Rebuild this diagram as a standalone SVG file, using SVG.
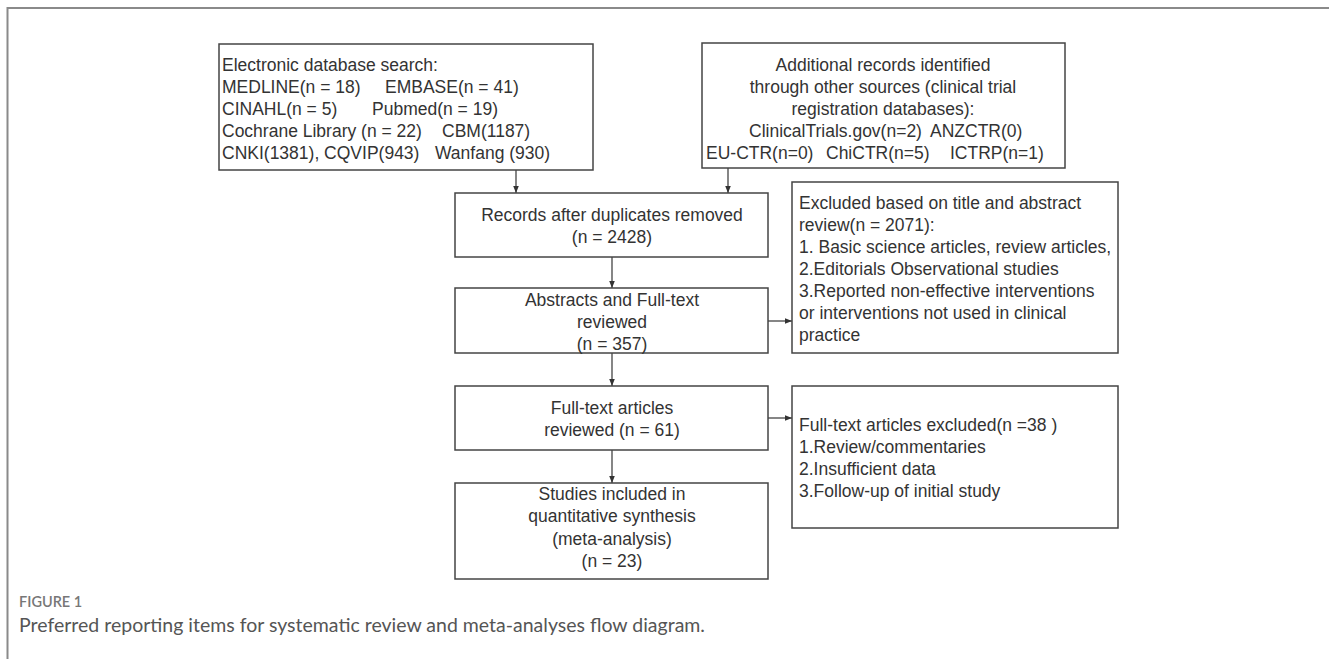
<svg xmlns="http://www.w3.org/2000/svg" width="1329" height="659" viewBox="0 0 1329 659">
<style>
.box{fill:#fff;stroke:#444;stroke-width:1.5}
.t{font-family:"Liberation Sans",Arial,sans-serif;font-size:17.5px;fill:#333}
.c{text-anchor:middle}
.ln{stroke:#444;stroke-width:1.3;fill:none}
.frame{stroke:#8a8a8a;stroke-width:2;fill:none}
.fig{font-family:Lato,"Open Sans",sans-serif;font-size:14.5px;fill:#777;font-weight:600}
.cap{font-family:Lato,"Open Sans",sans-serif;font-size:19.5px;fill:#555}
</style>
<defs>
<marker id="ah" viewBox="0 0 10 10" refX="10" refY="5" markerWidth="7" markerHeight="7" markerUnits="userSpaceOnUse" orient="auto">
<path d="M0,1 L10,5 L0,9 Z" fill="#333"/>
</marker>
</defs>
<path class="frame" d="M7.5,659 L7.5,8 L1329,8"/>
<g id="connectors">
<line class="ln" x1="516" y1="170" x2="516" y2="193" marker-end="url(#ah)"/>
<line class="ln" x1="728" y1="168" x2="728" y2="193" marker-end="url(#ah)"/>
<line class="ln" x1="612" y1="257" x2="612" y2="288" marker-end="url(#ah)"/>
<line class="ln" x1="612" y1="353" x2="612" y2="386" marker-end="url(#ah)"/>
<line class="ln" x1="612" y1="450" x2="612" y2="483" marker-end="url(#ah)"/>
<line class="ln" x1="768" y1="321" x2="792" y2="321" marker-end="url(#ah)"/>
<line class="ln" x1="768" y1="418" x2="792" y2="418" marker-end="url(#ah)"/>
</g>
<g id="electronic">
<rect class="box" x="219" y="44" width="374" height="126"/>
<text class="t"><tspan x="222" y="71">Electronic database search:</tspan><tspan x="222" y="93">MEDLINE(n = 18)</tspan><tspan x="385" y="93">EMBASE(n = 41)</tspan><tspan x="222" y="115">CINAHL(n = 5)</tspan><tspan x="372" y="115">Pubmed(n = 19)</tspan><tspan x="222" y="137">Cochrane Library (n = 22)</tspan><tspan x="442" y="137">CBM(1187)</tspan><tspan x="222" y="159">CNKI(1381), CQVIP(943)</tspan><tspan x="435" y="159">Wanfang (930)</tspan></text>
</g>
<g id="additional">
<rect class="box" x="702" y="43" width="363" height="125"/>
<text class="t"><tspan class="c" x="883" y="71">Additional records identified</tspan><tspan class="c" x="883" y="93">through other sources (clinical trial</tspan><tspan class="c" x="883" y="115">registration databases):</tspan><tspan x="749" y="137">ClinicalTrials.gov(n=2)</tspan><tspan x="930" y="137">ANZCTR(0)</tspan><tspan x="706" y="159">EU-CTR(n=0)</tspan><tspan x="826" y="159">ChiCTR(n=5)</tspan><tspan x="950" y="159">ICTRP(n=1)</tspan></text>
</g>
<g id="records">
<rect class="box" x="455" y="193" width="313" height="64"/>
<text class="t c"><tspan x="612" y="221">Records after duplicates removed</tspan><tspan x="612" y="243">(n = 2428)</tspan></text>
</g>
<g id="abstracts">
<rect class="box" x="455" y="288" width="313" height="65"/>
<text class="t c"><tspan x="612" y="306">Abstracts and Full-text</tspan><tspan x="612" y="328">reviewed</tspan><tspan x="612" y="350">(n = 357)</tspan></text>
</g>
<g id="fulltext">
<rect class="box" x="455" y="386" width="313" height="64"/>
<text class="t c"><tspan x="612" y="414">Full-text articles</tspan><tspan x="612" y="436">reviewed (n = 61)</tspan></text>
</g>
<g id="studies">
<rect class="box" x="455" y="483" width="313" height="96"/>
<text class="t c"><tspan x="612" y="500">Studies included in</tspan><tspan x="612" y="522">quantitative synthesis</tspan><tspan x="612" y="545">(meta-analysis)</tspan><tspan x="612" y="567">(n = 23)</tspan></text>
</g>
<g id="excluded1">
<rect class="box" x="792" y="182" width="326" height="171"/>
<text class="t"><tspan x="799" y="209">Excluded based on title and abstract</tspan><tspan x="799" y="231">review(n = 2071):</tspan><tspan x="799" y="253">1. Basic science articles, review articles,</tspan><tspan x="799" y="275">2.Editorials Observational studies</tspan><tspan x="799" y="297">3.Reported non-effective interventions</tspan><tspan x="799" y="319">or interventions not used in clinical</tspan><tspan x="799" y="341">practice</tspan></text>
</g>
<g id="excluded2">
<rect class="box" x="792" y="386" width="326" height="142"/>
<text class="t"><tspan x="799" y="431">Full-text articles excluded(n =38 )</tspan><tspan x="799" y="453">1.Review/commentaries</tspan><tspan x="799" y="475">2.Insufficient data</tspan><tspan x="799" y="497">3.Follow-up of initial study</tspan></text>
</g>
<g id="caption">
<text class="fig" x="19" y="607">FIGURE 1</text>
<text class="cap" x="19" y="632">Preferred reporting items for systematic review and meta-analyses flow diagram.</text>
</g>
</svg>
